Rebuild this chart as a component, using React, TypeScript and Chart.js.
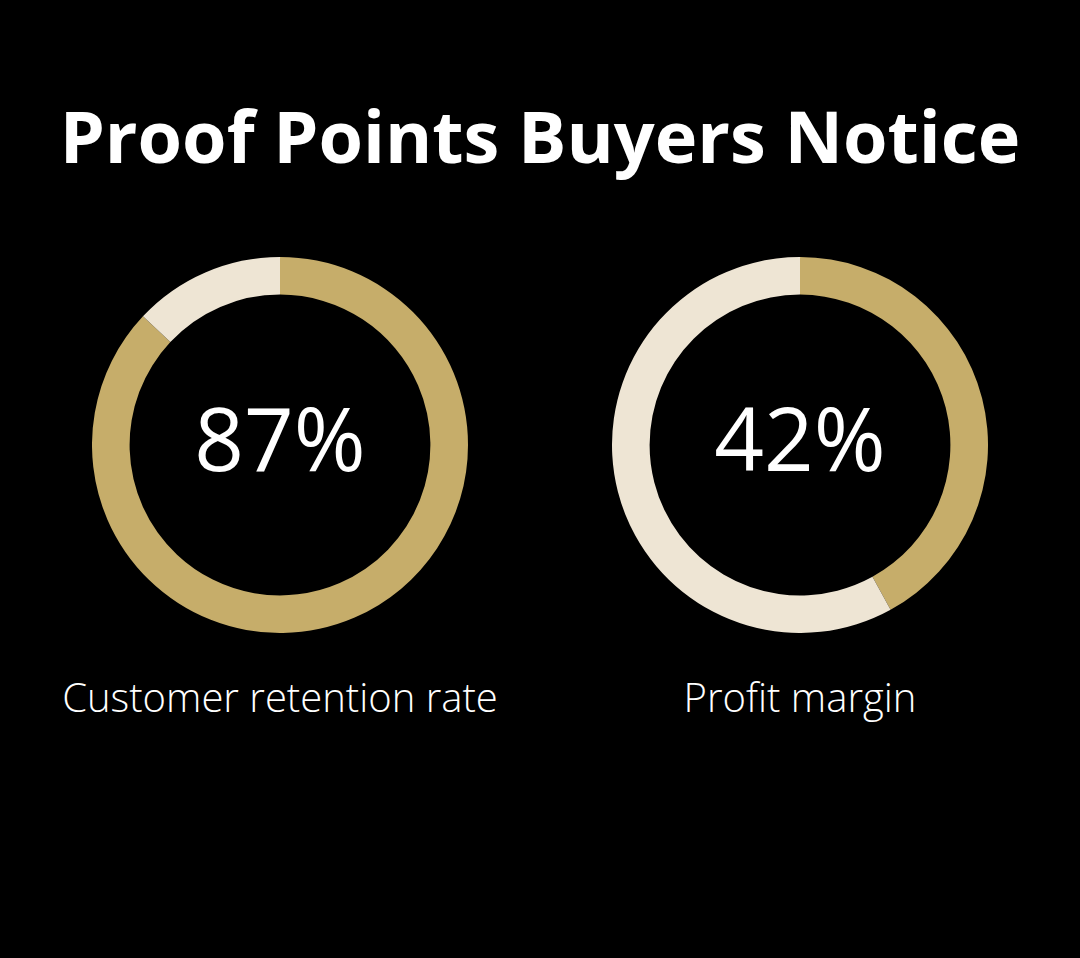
import React, { useEffect, useRef } from "react";
import { Chart, registerables } from "chart.js";

Chart.register(...registerables);

const TITLE = "Proof Points Buyers Notice";
const METRIC_LABELS = ["Customer retention rate", "Profit margin"];
const METRIC_VALUES = [87, 42];
const SEGMENT_LABELS = ["Achieved", "Remaining"];
const GOLD = "#C6AD6A";
const CREAM = "#EEE5D4";
const FONT = "'Open Sans', 'Noto Sans', sans-serif";

// baseline offset for a line-height:1 box in Open Sans
const baseOff = (size: number) => (size - 1.362 * size) / 2 + 1.069 * size;

function Donut({ value, label, cx }: { value: number; label: string; cx: number }) {
  const ref = useRef<HTMLCanvasElement | null>(null);
  useEffect(() => {
    if (!ref.current) return;
    const chart = new Chart(ref.current, {
      type: "doughnut",
      data: {
        labels: SEGMENT_LABELS,
        datasets: [
          {
            data: [value, 100 - value],
            backgroundColor: [GOLD, CREAM],
            borderWidth: 0,
          },
        ],
      },
      options: {
        animation: false,
        responsive: false,
        maintainAspectRatio: false,
        cutout: "80%",
        layout: { padding: 0 },
        plugins: { legend: { display: false }, tooltip: { enabled: false } },
      },
    });
    return () => chart.destroy();
  }, [value]);
  const size = 376;
  const cy = 445;
  const valSize = 87;
  const labSize = 40;
  return (
    <>
      <canvas
        ref={ref}
        width={size}
        height={size}
        style={{ position: "absolute", left: cx - size / 2, top: cy - size / 2, width: size, height: size }}
      />
      <div
        style={{
          position: "absolute",
          left: cx - 200,
          width: 400,
          top: 471 - baseOff(valSize),
          textAlign: "center",
          fontFamily: FONT,
          fontSize: valSize,
          lineHeight: 1,
          color: "#fff",
          fontWeight: 400,
        }}
      >
        {value}%
      </div>
      <div
        style={{
          position: "absolute",
          left: cx - 260,
          width: 520,
          top: 713 - baseOff(labSize),
          textAlign: "center",
          fontFamily: FONT,
          fontSize: labSize,
          lineHeight: 1,
          color: "#fff",
          fontWeight: 300,
          whiteSpace: "nowrap",
        }}
      >
        {label}
      </div>
    </>
  );
}

export default function App() {
  const titleSize = 72;
  return (
    <div style={{ position: "fixed", left: 0, top: 0, width: 1080, height: 958, background: "#000", overflow: "hidden" }}>
      <div
        style={{
          position: "absolute",
          left: 0,
          width: 1080,
          top: 163 - baseOff(titleSize),
          textAlign: "center",
          fontFamily: FONT,
          fontSize: titleSize,
          fontWeight: 700,
          lineHeight: 1,
          color: "#fff",
          whiteSpace: "nowrap",
        }}
      >
        {TITLE}
      </div>
      <Donut value={METRIC_VALUES[0]} label={METRIC_LABELS[0]} cx={280} />
      <Donut value={METRIC_VALUES[1]} label={METRIC_LABELS[1]} cx={800} />
    </div>
  );
}
